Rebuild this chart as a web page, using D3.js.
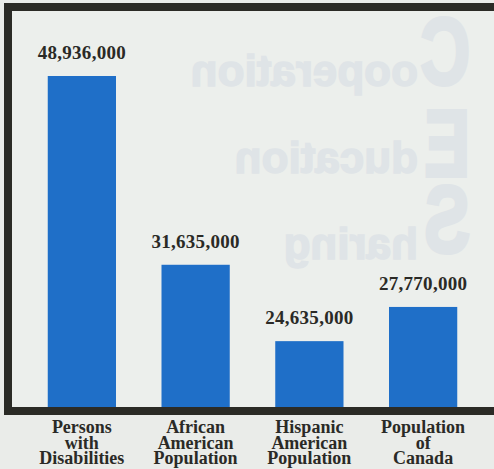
<!DOCTYPE html>
<html>
<head>
<meta charset="utf-8">
<script src="https://cdn.jsdelivr.net/npm/d3@7"></script>
<style>
  html, body { margin: 0; padding: 0; background: #eaece9; }
  svg { display: block; }
</style>
</head>
<body>
<div class="chart"></div>
<script>
// data
const categories = [
  ['Persons', 'with', 'Disabilities'],
  ['African', 'American', 'Population'],
  ['Hispanic', 'American', 'Population'],
  ['Population', 'of', 'Canada']
];
const values = [48936000, 31635000, 24635000, 27770000];

// faint show-through text from the back of the page (mirrored)
const ghostInitials = ['C', 'E', 'S'];
const ghostRests = ['ooperation', 'ducation', 'haring'];

const width = 494, height = 469;
const fmt = d3.format(',');

const svg = d3.select('div.chart').append('svg')
  .attr('width', width)
  .attr('height', height);

svg.append('rect')
  .attr('width', width).attr('height', height)
  .attr('fill', '#eaece9');

// frame interior
svg.append('rect')
  .attr('x', 8).attr('y', 7)
  .attr('width', 496).attr('height', 404)
  .attr('fill', '#ecefec');

// ghost text
const ghost = svg.append('g')
  .attr('fill', '#dfe4e7')
  .attr('stroke', '#dfe4e7')
  .attr('font-family', 'Liberation Sans, Arial, sans-serif')
  .attr('font-weight', 'bold');

const ghostRows = [
  {big: 84, small: 86},
  {big: 176, small: 173},
  {big: 252, small: 259}
];
ghostInitials.forEach((c, i) => {
  ghost.append('text')
    .attr('transform', `translate(470,${ghostRows[i].big}) scale(-0.7,0.96)`)
    .attr('font-size', 98)
    .attr('stroke-width', 4)
    .text(c);
  ghost.append('text')
    .attr('transform', `translate(418,${ghostRows[i].small}) scale(-1,1)`)
    .attr('font-size', 44)
    .attr('stroke-width', 1.5)
    .text(ghostRests[i]);
});

const x = d3.scaleBand()
  .domain(d3.range(categories.length))
  .range([25, 480])
  .paddingInner(0.4)
  .paddingOuter(0.2);

const y = d3.scaleLinear()
  .domain([18600000, 48936000])
  .range([407, 76]);

svg.selectAll('rect.bar')
  .data(values)
  .enter()
  .append('rect')
    .attr('class', 'bar')
    .attr('x', (d, i) => x(i))
    .attr('y', d => y(d))
    .attr('width', x.bandwidth())
    .attr('height', d => 407 - y(d))
    .attr('fill', '#1f6fc8');

svg.selectAll('text.value')
  .data(values)
  .enter()
  .append('text')
    .attr('class', 'value')
    .attr('x', (d, i) => x(i) + x.bandwidth() / 2)
    .attr('y', d => y(d) - 17)
    .attr('text-anchor', 'middle')
    .attr('font-family', 'Liberation Serif, Times New Roman, serif')
    .attr('font-weight', 'bold')
    .attr('font-size', 19)
    .attr('letter-spacing', 0.3)
    .attr('fill', '#2a2a26')
    .text(d => fmt(d));

// black frame
svg.append('rect')
  .attr('x', 8).attr('y', 7)
  .attr('width', 496).attr('height', 404)
  .attr('fill', 'none')
  .attr('stroke', '#2b2b26')
  .attr('stroke-width', 8);

// category labels below the frame, set tight like the print
const cat = svg.selectAll('text.cat')
  .data(categories)
  .enter()
  .append('text')
    .attr('class', 'cat')
    .attr('text-anchor', 'middle')
    .attr('font-family', 'Liberation Serif, Times New Roman, serif')
    .attr('font-weight', 'bold')
    .attr('font-size', 18)
    .attr('fill', '#2a2a26');

cat.selectAll('tspan')
  .data((d, i) => d.map(s => ({s, i})))
  .enter()
  .append('tspan')
    .attr('x', d => x(d.i) + x.bandwidth() / 2)
    .attr('y', (d, j) => 433 + j * 15.5)
    .text(d => d.s);
</script>
</body>
</html>
